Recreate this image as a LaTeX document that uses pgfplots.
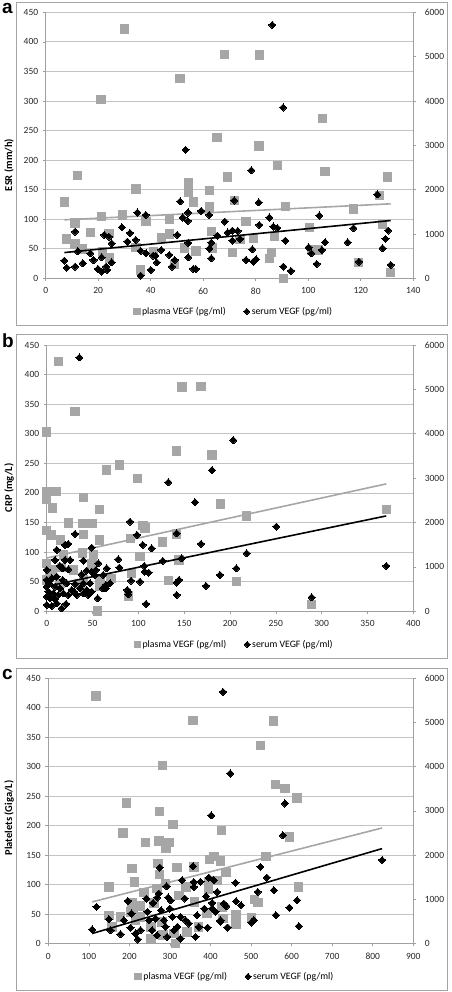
\documentclass[border=0pt]{standalone}
\usepackage{fontspec}
\setmainfont{Carlito}
\newfontfamily\arialfont{Liberation Sans}
\usepackage{pgfplots}
\pgfplotsset{compat=1.18}
\definecolor{ptgray}{RGB}{166,166,166}
\definecolor{gridgray}{RGB}{195,195,195}
\definecolor{axgray}{RGB}{160,160,160}
\definecolor{framegray}{RGB}{165,165,165}
\newcommand{\tfont}{\fontsize{9.5}{11}\selectfont}
\pgfplotsset{
 common/.style={scale only axis, clip=false,
   tick align=outside, major tick length=3pt,
   tick style={draw=axgray, line width=0.6pt},
   axis line style={draw=axgray, line width=0.8pt},
   tick label style={font=\tfont, text=black!85},
   /pgf/number format/assume math mode=true,
   /pgf/number format/1000 sep={},
   scaled ticks=false},
 leftax/.style={common, axis x line*=bottom, axis y line*=left, ymin=0, ymax=450, ytick={0,50,...,450},
   ymajorgrids, major grid style={draw=gridgray, line width=0.7pt},
   yticklabel style={xshift=-1pt}, xticklabel style={yshift=-3pt}},
 rightax/.style={common, axis x line=none, axis y line*=right, ymin=0, ymax=6000, ytick={0,1000,...,6000},
   yticklabel style={xshift=5pt},
   legend style={draw=none, fill=none, legend columns=2, font=\fontsize{9.8}{11}\selectfont,
     /tikz/every even column/.append style={column sep=16pt},
     anchor=center, at={(0.512,-0.124)}}},
 plasma/.style={only marks, color=ptgray, mark=square*, mark size=4.2pt, mark options={solid, fill=ptgray, draw=ptgray, line width=0pt}},
 serum/.style={only marks, color=black, mark=square*, mark size=2.5pt, mark options={solid, rotate=45, fill=black, draw=black, line width=0pt}},
 ptrend/.style={no marks, color=ptgray, line width=1.6pt},
 strend/.style={no marks, color=black, line width=1.6pt},
}
\newcommand{\legimgs}{%
  \addlegendimage{only marks, color=ptgray, mark=square*, mark size=3.2pt, mark options={fill=ptgray, draw=ptgray, line width=0pt}}
  \addlegendentry{plasma VEGF (pg/ml)}
  \addlegendimage{only marks, color=black, mark=square*, mark size=2.1pt, mark options={rotate=45, fill=black, draw=black, line width=0pt}}
  \addlegendentry{serum VEGF (pg/ml)}}
\begin{document}
\begin{tikzpicture}[x=1pt,y=1pt]
\path[use as bounding box] (0,0) rectangle (451,992);
% frames
\draw[framegray, line width=0.8pt] (16,667) rectangle (447,990);
\draw[framegray, line width=0.8pt] (16,334) rectangle (447,658);
\draw[framegray, line width=0.8pt] (16,2) rectangle (447,324);
% panel letters
\node[anchor=base west, inner sep=0, font=\arialfont\bfseries\fontsize{19}{20}\selectfont] at (2,978) {a};
\node[anchor=base west, inner sep=0, font=\arialfont\bfseries\fontsize{19}{20}\selectfont] at (2,644) {b};
\node[anchor=base west, inner sep=0, font=\arialfont\bfseries\fontsize{19}{20}\selectfont] at (2,312) {c};
% y labels
\node[rotate=90, font=\bfseries\fontsize{10.5}{12}\selectfont] at (9,827) {ESR (mm/h)};
\node[rotate=90, font=\bfseries\fontsize{10.5}{12}\selectfont] at (9,504) {CRP (mg/L)};
\node[rotate=90, font=\bfseries\fontsize{10.5}{12}\selectfont] at (9,174) {Platelets (Giga/L)};

% ================= Panel a =================
\begin{axis}[leftax, at={(45.7pt,713.7pt)}, anchor=south west, width=367.6pt, height=266pt,
  xmin=0, xmax=140, xtick={0,20,...,140}]
\addplot[plasma] coordinates {
(30,422) (21,302) (68,379) (81.4,378) (51.2,337.6) (105.4,270) (65.3,238) (81.3,223.5) (88.3,190.7)
(106.4,181) (12.2,173.8) (69.3,171.5) (130.2,171.5) (54.4,161)
(7.1,128.8) (34.4,150.9) (54.3,145.2) (62.3,148.6) (56.2,128.8) (62.3,120.3) (71.8,131.6) (91.3,121.5)
(127.2,140) (117.3,117.5) (11.2,93.2) (8,66.7) (21.2,105) (29.3,107) (38.2,96) (47.1,100.5) (76.3,96)
(128.3,91.5) (17,77.4) (24.1,75.7) (47.1,74.6) (44,69) (63.1,79) (74,66) (79.1,67.2) (87.2,70.6)
(100.4,86.4) (11.2,58.2) (14,49.7) (21.7,45) (34.4,52) (41,45) (52.8,50.9) (57.2,46.3) (63.5,50.9)
(71.2,44) (86,44) (85.2,33.9) (101.4,48) (24.2,34.5) (36.2,14) (49.1,23.7) (90.5,0) (131.4,10)
(119.1,27) (104,48)
};
\addplot[ptrend] coordinates {(7.1,98.9) (131.4,126)};
\end{axis}
\begin{axis}[rightax, at={(45.7pt,713.7pt)}, anchor=south west, width=367.6pt, height=266pt,
  xmin=0, xmax=140]
\legimgs
\addplot[serum] coordinates {
(7.1,399) (8,240) (11.2,1053) (11.2,264) (12.2,611) (14.1,339) (17,565) (18.2,413) (19.9,211) (21.3,151)
(21.3,475) (22.3,980) (23,264) (23.5,187) (24.1,941) (25.1,791) (25.1,360) (29,1152) (31.1,827)
(32.1,1024) (34.3,867) (34.9,1484) (36.2,617) (36.2,60) (38.1,1431) (38.2,565) (40,187) (40.9,512)
(41.8,512) (42.3,360) (44,640) (47.1,527) (48.1,264) (49.1,413) (50.1,980) (51.2,1733) (52.2,1371)
(54.1,1296) (54.2,1484) (54.3,799) (54.3,475) (56.2,211) (57.2,211) (59.2,1520) (62.3,1431) (62.3,671)
(63.1,807) (63.1,452) (65.4,964) (68.2,1280) (69.3,1032) (71.1,851) (71.1,1077) (71.8,1755) (73.1,1069)
(74,889) (76.3,413) (78.7,656) (79.1,376) (80.1,429) (81.1,1711) (81.3,1205) (85.2,1371) (86.7,1168)
(88.2,1137) (90.5,264) (91.3,851) (93.4,165) (100.1,700) (101.2,565) (103.2,324) (104.2,1416)
(105.2,640) (106.4,813) (115,813) (117.2,1131) (119.3,376) (126.3,1891) (128.3,679) (129.4,889)
(130.4,1077) (131.4,301) (86.3,5714) (90.4,3853) (53.3,2898) (78.3,2437)
};
\addplot[strend] coordinates {(7.1,580) (131.4,1303)};
\end{axis}

% ================= Panel b =================
\begin{axis}[leftax, at={(46.7pt,380.7pt)}, anchor=south west, width=366.6pt, height=266.3pt,
  xmin=0, xmax=400, xtick={0,50,...,400}]
\addplot[plasma] coordinates {
(12.7,422) (30.9,337.7) (0,303) (147.6,378.8) (168.4,379.9) (141.8,270.6) (180.4,263.8) (65.5,239)
(79.3,247.5) (98.9,224.4) (0,202.4) (10.2,202.4) (40.4,192.5) (0,189.4) (6.5,174.8) (57.3,172.5)
(0,136.4) (4.5,129.1) (23.6,149.4) (39.6,148.3) (49.3,148.3) (40,130) (15,120.6) (57.3,120.6)
(91.3,123.4) (105.1,144.8) (107.1,141) (126.5,117.2) (141.8,130.8) (189.4,181.5) (217.8,161.2)
(370.5,172.5) (0,81.2) (18.2,95) (39.3,98.7) (50.9,96.2) (49.6,79.8) (29.1,69.9) (16.4,74.4) (6.5,69.9)
(101.8,92.4) (92.2,64.3) (70,55.8) (144.4,86.8) (132.7,51.6) (206.9,50.2) (2.9,57.5) (0,53) (58.2,53)
(58.2,42.8) (36.4,47.3) (89.1,25.9) (55.4,0.6) (289,11.3) (14.5,47.3) (40,53)
};
\addplot[ptrend] coordinates {(0,90) (370.5,215.3)};
\end{axis}
\begin{axis}[rightax, at={(46.7pt,380.7pt)}, anchor=south west, width=366.6pt, height=266.3pt,
  xmin=0, xmax=400]
\legimgs
\addplot[serum] coordinates {
(35.6,5719) (203.6,3855) (180.4,3178) (132.7,2908) (161.8,2457)
(90.9,2021) (98.5,1721) (104.7,1496) (114.5,1420) (141.8,1758) (168.4,1518) (250.5,1909) (218.2,1308)
(189,819) (206.9,969) (370.5,1022) (173.8,571) (289,316) (126.5,1135) (147.3,1195) (141.8,646)
(144.4,707) (141.8,368) (108.4,165) (89.1,444) (89.1,383) (106.5,1022) (106.9,894) (111.3,872)
(101.8,669) (92,692) (78.2,1172) (79.3,984)
(30.9,1743) (20,1496) (23.6,1518) (10.9,1383) (49.1,1435) (0,932) (9.1,1157) (14.5,1022) (20,1157)
(25.5,1157) (17.5,969) (23.6,947) (40,1142) (56.4,1082) (65.5,969) (49.1,894) (53.8,932) (43.6,917)
(38.2,834) (52.4,819) (61.8,819) (64.7,594) (61.1,519) (55.6,293) (47.3,631) (43.6,481) (40,631)
(36.4,519) (30.9,616) (27.3,481) (21.8,631) (17.5,707) (10.9,781) (5.5,744) (0,707) (0,556) (2.9,631)
(9.1,556) (14.5,519) (1.8,444) (7.3,406) (12.7,368) (0,331) (3.6,293) (9.1,270) (18.2,406) (23.6,368)
(0,143) (5.5,120) (10.9,180) (16.4,68) (21.1,165) (29.8,444) (32.7,368) (40,406) (45.5,368) (49.1,444)
(87.9,481) (69.1,631) (64.4,519)
};
\addplot[strend] coordinates {(0,564) (370.5,2149)};
\end{axis}

% ================= Panel c =================
\begin{axis}[leftax, at={(48.3pt,48.5pt)}, anchor=south west, width=365pt, height=265.2pt,
  xmin=0, xmax=900, xtick={0,100,...,900}]
\addplot[plasma] coordinates {
(117.5,420) (356.7,378.3) (554.8,377.7) (522.7,336.4) (281.1,302) (559.7,269.8) (583.5,263) (613.1,247.2)
(193.1,238.2) (274.5,223.5) (307.4,202) (427.4,192)
(184.6,187.6) (239.6,171.8) (272.5,174) (297.2,171.8) (289.9,161) (594.6,180.8) (206.7,127.1) (270,135.6)
(274.2,117.5) (317.7,128.8) (358.8,130) (408.1,148) (397.4,142.4) (424.6,140.1) (212.6,104.5) (149.3,96)
(235.6,86.4) (268.4,93.2) (289,101.7) (339.1,96) (394.8,105.7) (394.8,91.5) (437.7,120.3) (416.4,107.3)
(537.1,148) (617.6,96) (509.1,75.1) (517.4,69.5) (206.7,68.9) (227.3,63.3) (209.3,59.3) (260.2,68.9)
(321.9,81.9) (360.5,70.6) (150.1,48) (157.5,28.3) (178,45.2) (202.7,53.7) (215,39.6) (227.3,45.2)
(253,28.3) (253,8.5) (280.8,36.7) (283.3,14.1) (313.6,0) (309.5,17) (342.4,19.8) (371,28.3) (391.8,50.9)
(428.7,62.2) (431.2,42.4) (463.1,49.7) (463.1,32.8) (500.9,44)
};
\addplot[ptrend] coordinates {(108.2,70.6) (823,196)};
\end{axis}
\begin{axis}[rightax, at={(48.3pt,48.5pt)}, anchor=south west, width=365pt, height=265.2pt,
  xmin=0, xmax=900]
\legimgs
\addplot[serum] coordinates {
(430.7,5692) (448.7,3846) (583.5,3168) (401.9,2897)
(578.2,2448) (823,1890) (523.1,1733) (538.7,1492) (461.5,1371) (516.5,1167) (556,1205) (463.1,957)
(475.4,867) (439.3,844) (613.5,980) (594.6,813) (560.9,640) (617.6,392) (500.9,475) (506.7,527)
(441,361) (424.5,489)
(118.9,829) (108.2,316) (149.3,549) (153.4,301) (178,211) (196.1,964) (186.3,527) (205.2,679)
(202.7,361) (215,226) (220.8,90) (227.3,301) (242,1017) (244.6,716) (248.7,527) (258.5,919) (268.4,1040)
(272.5,1130) (275,1717) (278.3,753) (264.4,565) (256.1,301) (268.4,188) (284.9,527) (289,377)
(293.1,151) (291.5,1296) (295.6,1040) (301.4,980) (299.8,791) (306,603) (310.2,301) (318.4,377)
(326,113) (330.1,1432) (336.7,1017) (326,603) (338.3,527) (346.5,452) (357.2,1748) (358.8,1393)
(358.8,1280) (367,640) (371.1,377) (363,151) (375.2,1393) (385,791) (389.2,1069) (395.8,1492) (404,919)
(392.6,361) (404,791) (408.1,1432) (412.2,716) (416.4,1167) (424.6,527) (433.2,904) (442.7,361)
};
\addplot[strend] coordinates {(108.2,226) (823,2147)};
\end{axis}
\end{tikzpicture}
\end{document}
